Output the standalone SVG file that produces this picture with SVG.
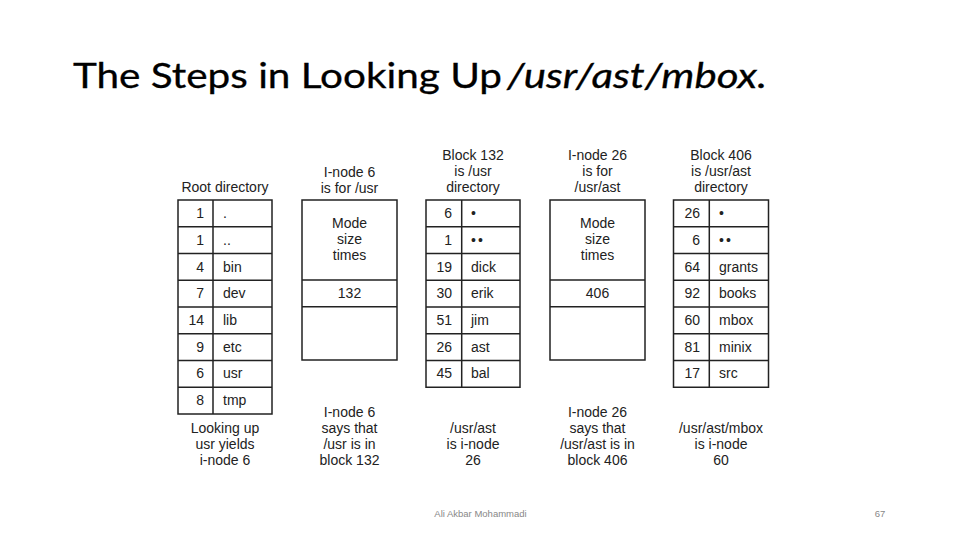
<svg xmlns="http://www.w3.org/2000/svg" width="960" height="540" viewBox="0 0 960 540">
<style>
.t{font-family:"Liberation Sans",Arial,sans-serif;font-size:14px;fill:#222}
.c{text-anchor:middle}
.r{text-anchor:end}
.dd{letter-spacing:2px}
.box{fill:#fff;stroke:#222;stroke-width:1.5}
.ln{stroke:#222;stroke-width:1.5;fill:none}
.title{font-family:Lato,"Open Sans",sans-serif;font-size:34px;fill:#000;stroke:#000;stroke-width:0.3}
.foot{font-family:"Liberation Sans",Arial,sans-serif;font-size:9.5px;fill:#888}
</style>
<rect width="960" height="540" fill="#fff"/>
<g id="title">
<text class="title" x="73" y="88" textLength="429" lengthAdjust="spacingAndGlyphs">The Steps in Looking Up</text>
<text class="title" x="507" y="88" font-style="italic" textLength="260" lengthAdjust="spacingAndGlyphs">/usr/ast/mbox.</text>
</g>

<g id="root-directory">
<text class="t c" x="225" y="192">Root directory</text>
<rect class="box" x="178" y="200" width="94" height="214"/>
<path class="ln" d="M213 200V414M178 226.75H272M178 253.5H272M178 280.25H272M178 307H272M178 333.75H272M178 360.5H272M178 387.25H272"/>
<text class="t r" x="204" y="218">1</text><text class="t" x="223" y="218">.</text>
<text class="t r" x="204" y="245">1</text><text class="t" x="223" y="245">..</text>
<text class="t r" x="204" y="272">4</text><text class="t" x="223" y="272">bin</text>
<text class="t r" x="204" y="298">7</text><text class="t" x="223" y="298">dev</text>
<text class="t r" x="204" y="325">14</text><text class="t" x="223" y="325">lib</text>
<text class="t r" x="204" y="352">9</text><text class="t" x="223" y="352">etc</text>
<text class="t r" x="204" y="378">6</text><text class="t" x="223" y="378">usr</text>
<text class="t r" x="204" y="405">8</text><text class="t" x="223" y="405">tmp</text>
<text class="t c" x="225" y="433">Looking up</text>
<text class="t c" x="225" y="449">usr yields</text>
<text class="t c" x="225" y="465">i-node 6</text>
</g>

<g id="inode-6">
<text class="t c" x="349.5" y="176.5">I-node 6</text>
<text class="t c" x="349.5" y="192.5">is for /usr</text>
<rect class="box" x="302" y="200" width="95" height="160"/>
<path class="ln" d="M302 280H397M302 306.75H397"/>
<text class="t c" x="349.5" y="228">Mode</text>
<text class="t c" x="349.5" y="244">size</text>
<text class="t c" x="349.5" y="260">times</text>
<text class="t c" x="349.5" y="298">132</text>
<text class="t c" x="349.5" y="417">I-node 6</text>
<text class="t c" x="349.5" y="433">says that</text>
<text class="t c" x="349.5" y="449">/usr is in</text>
<text class="t c" x="349.5" y="465">block 132</text>
</g>

<g id="block-132">
<text class="t c" x="473" y="160">Block 132</text>
<text class="t c" x="473" y="176">is /usr</text>
<text class="t c" x="473" y="192">directory</text>
<rect class="box" x="426" y="200" width="94" height="187.25"/>
<path class="ln" d="M461.7 200V387.25M426 226.75H520M426 253.5H520M426 280.25H520M426 307H520M426 333.75H520M426 360.5H520"/>
<text class="t r" x="452" y="218">6</text><text class="t" x="471" y="218">•</text>
<text class="t r" x="452" y="245">1</text><text class="t dd" x="471" y="245">••</text>
<text class="t r" x="452" y="272">19</text><text class="t" x="471" y="272">dick</text>
<text class="t r" x="452" y="298">30</text><text class="t" x="471" y="298">erik</text>
<text class="t r" x="452" y="325">51</text><text class="t" x="471" y="325">jim</text>
<text class="t r" x="452" y="352">26</text><text class="t" x="471" y="352">ast</text>
<text class="t r" x="452" y="378">45</text><text class="t" x="471" y="378">bal</text>
<text class="t c" x="473" y="433">/usr/ast</text>
<text class="t c" x="473" y="449">is i-node</text>
<text class="t c" x="473" y="465">26</text>
</g>

<g id="inode-26">
<text class="t c" x="597.5" y="160">I-node 26</text>
<text class="t c" x="597.5" y="176">is for</text>
<text class="t c" x="597.5" y="192">/usr/ast</text>
<rect class="box" x="550" y="200" width="95" height="160"/>
<path class="ln" d="M550 280H645M550 306.75H645"/>
<text class="t c" x="597.5" y="228">Mode</text>
<text class="t c" x="597.5" y="244">size</text>
<text class="t c" x="597.5" y="260">times</text>
<text class="t c" x="597.5" y="298">406</text>
<text class="t c" x="597.5" y="417">I-node 26</text>
<text class="t c" x="597.5" y="433">says that</text>
<text class="t c" x="597.5" y="449">/usr/ast is in</text>
<text class="t c" x="597.5" y="465">block 406</text>
</g>

<g id="block-406">
<text class="t c" x="721" y="160">Block 406</text>
<text class="t c" x="721" y="176">is /usr/ast</text>
<text class="t c" x="721" y="192">directory</text>
<rect class="box" x="673.5" y="200" width="95" height="187.25"/>
<path class="ln" d="M709.3 200V387.25M673.5 226.75H768.5M673.5 253.5H768.5M673.5 280.25H768.5M673.5 307H768.5M673.5 333.75H768.5M673.5 360.5H768.5"/>
<text class="t r" x="700" y="218">26</text><text class="t" x="719" y="218">•</text>
<text class="t r" x="700" y="245">6</text><text class="t dd" x="719" y="245">••</text>
<text class="t r" x="700" y="272">64</text><text class="t" x="719" y="272">grants</text>
<text class="t r" x="700" y="298">92</text><text class="t" x="719" y="298">books</text>
<text class="t r" x="700" y="325">60</text><text class="t" x="719" y="325">mbox</text>
<text class="t r" x="700" y="352">81</text><text class="t" x="719" y="352">minix</text>
<text class="t r" x="700" y="378">17</text><text class="t" x="719" y="378">src</text>
<text class="t c" x="721" y="433">/usr/ast/mbox</text>
<text class="t c" x="721" y="449">is i-node</text>
<text class="t c" x="721" y="465">60</text>
</g>

<g id="footer">
<text class="foot" x="480.5" y="517" text-anchor="middle">Ali Akbar Mohammadi</text>
<text class="foot" x="880" y="517" text-anchor="middle">67</text>
</g>
</svg>
